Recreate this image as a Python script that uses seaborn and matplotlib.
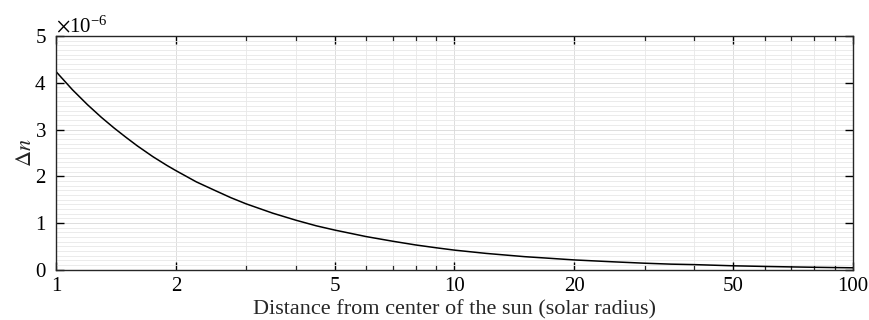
import numpy as np
import pandas as pd
import seaborn as sns
import matplotlib.pyplot as plt
import matplotlib.ticker as mticker

# Distance from the sun centre (solar radii) and refractive index change
distance = [1, 1.1, 1.2, 1.3, 1.4, 1.5, 1.6, 1.75, 1.9, 2, 2.25, 2.5, 2.75, 3, 3.5, 4, 4.5, 5, 6,
            7, 8, 9, 10, 12, 15, 17, 20, 25, 30, 35, 40, 50, 60, 70, 80, 90, 100]
delta_n = [4.24e-6, 3.85e-6, 3.53e-6, 3.26e-6, 3.03e-6, 2.83e-6, 2.65e-6, 2.42e-6, 2.23e-6,
           2.12e-6, 1.88e-6, 1.70e-6, 1.54e-6, 1.41e-6, 1.21e-6, 1.06e-6, 0.94e-6, 0.85e-6,
           0.71e-6, 0.61e-6, 0.53e-6, 0.47e-6, 0.42e-6, 0.35e-6, 0.28e-6, 0.25e-6, 0.21e-6,
           0.17e-6, 0.14e-6, 0.12e-6, 0.11e-6, 0.085e-6, 0.071e-6, 0.061e-6, 0.053e-6,
           0.047e-6, 0.042e-6]

x_ticks = [1, 2, 5, 10, 20, 50, 100]
x_minor = [3, 4, 6, 7, 8, 9, 30, 40, 60, 70, 80, 90]
y_ticks = [0, 1e-6, 2e-6, 3e-6, 4e-6, 5e-6]

df = pd.DataFrame({'r': distance, 'dn': delta_n})

sns.set_style('ticks')
plt.rcParams['font.family'] = ['Liberation Serif', 'DejaVu Serif']
plt.rcParams['mathtext.fontset'] = 'stix'
plt.rcParams['font.size'] = 15

fig = plt.figure(figsize=(8.69, 3.2), dpi=100)
ax = fig.add_axes([0.0644, 0.157, 0.9172, 0.7305])

sns.lineplot(data=df, x='r', y='dn', color='black', linewidth=1.1, ax=ax)

ax.set_xscale('log')
ax.set_xlim(1, 100)
ax.set_ylim(0, 5e-6)

ax.xaxis.set_major_locator(mticker.FixedLocator(x_ticks))
ax.xaxis.set_major_formatter(mticker.FixedFormatter([str(t) for t in x_ticks]))
ax.xaxis.set_minor_locator(mticker.FixedLocator(x_minor))
ax.xaxis.set_minor_formatter(mticker.NullFormatter())

ax.yaxis.set_major_locator(mticker.FixedLocator(y_ticks))
ax.yaxis.set_minor_locator(mticker.MultipleLocator(0.1e-6))
fmt = mticker.ScalarFormatter(useMathText=True)
fmt.set_powerlimits((-3, 3))
ax.yaxis.set_major_formatter(fmt)
ax.yaxis.get_offset_text().set_fontsize(15)

ax.grid(which='major', color='#d8d8d8', linewidth=0.6)
ax.grid(which='minor', color='#e8e8e8', linewidth=0.6)
ax.set_axisbelow(True)

ax.tick_params(which='major', direction='in', length=6, width=1.0, top=True, right=True,
               labelsize=15, colors='black')
ax.tick_params(axis='x', which='minor', direction='in', length=3.5, width=0.9, top=True)
ax.tick_params(axis='y', which='minor', length=0)
ax.tick_params(axis='x', which='major', pad=5)
ax.tick_params(axis='y', which='major', pad=7)

for s in ax.spines.values():
    s.set_linewidth(1.0)
    s.set_color('#262626')

ax.set_xlabel('Distance from center of the sun (solar radius)', fontsize=16, labelpad=3)
ax.set_ylabel(r'$\Delta n$', fontsize=16, labelpad=-1)

fig.savefig('out.png', dpi=100)
